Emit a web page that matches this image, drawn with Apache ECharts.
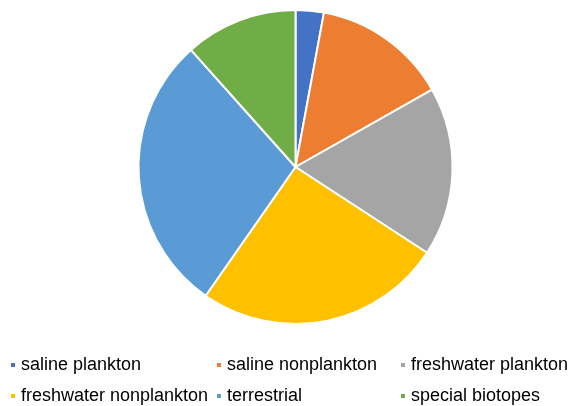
<!DOCTYPE html>
<html>
<head>
<meta charset="utf-8">
<script src="https://cdn.jsdelivr.net/npm/echarts@6/dist/echarts.min.js"></script>
<style>
html,body{margin:0;padding:0;background:#fff;}
#chart{width:570px;height:406px;}
</style>
</head>
<body>
<div id="chart"></div>
<script>
const categories = ['saline plankton','saline nonplankton','freshwater plankton','freshwater nonplankton','terrestrial','special biotopes'];
const values = [2.9, 13.9, 17.4, 25.5, 28.7, 11.6];
const colors = ['#4472C4','#ED7D31','#A5A5A5','#FFC000','#5B9BD5','#70AD47'];

const legendPos = [
  {left: 9, top: 355},
  {left: 215, top: 355},
  {left: 399, top: 355},
  {left: 9, top: 386},
  {left: 215, top: 386},
  {left: 399, top: 386}
];

const chart = echarts.init(document.getElementById('chart'), null, {renderer: 'canvas'});
chart.setOption({
  animation: false,
  color: colors,
  legend: categories.map((c, i) => ({
    data: [c],
    left: legendPos[i].left,
    top: legendPos[i].top,
    padding: 0,
    icon: 'rect',
    itemWidth: 6,
    itemHeight: 6,
    selectedMode: false,
    textStyle: {fontFamily: 'Liberation Sans, Arial, sans-serif', fontSize: 18, color: '#000', lineHeight: 20}
  })),
  series: [{
    type: 'pie',
    center: [295.5, 167],
    radius: [0, 157],
    startAngle: 90,
    clockwise: true,
    label: {show: false},
    labelLine: {show: false},
    emphasis: {disabled: true},
    itemStyle: {borderColor: '#fff', borderWidth: 2},
    data: categories.map((c, i) => ({name: c, value: values[i]}))
  }]
});
</script>
</body>
</html>
